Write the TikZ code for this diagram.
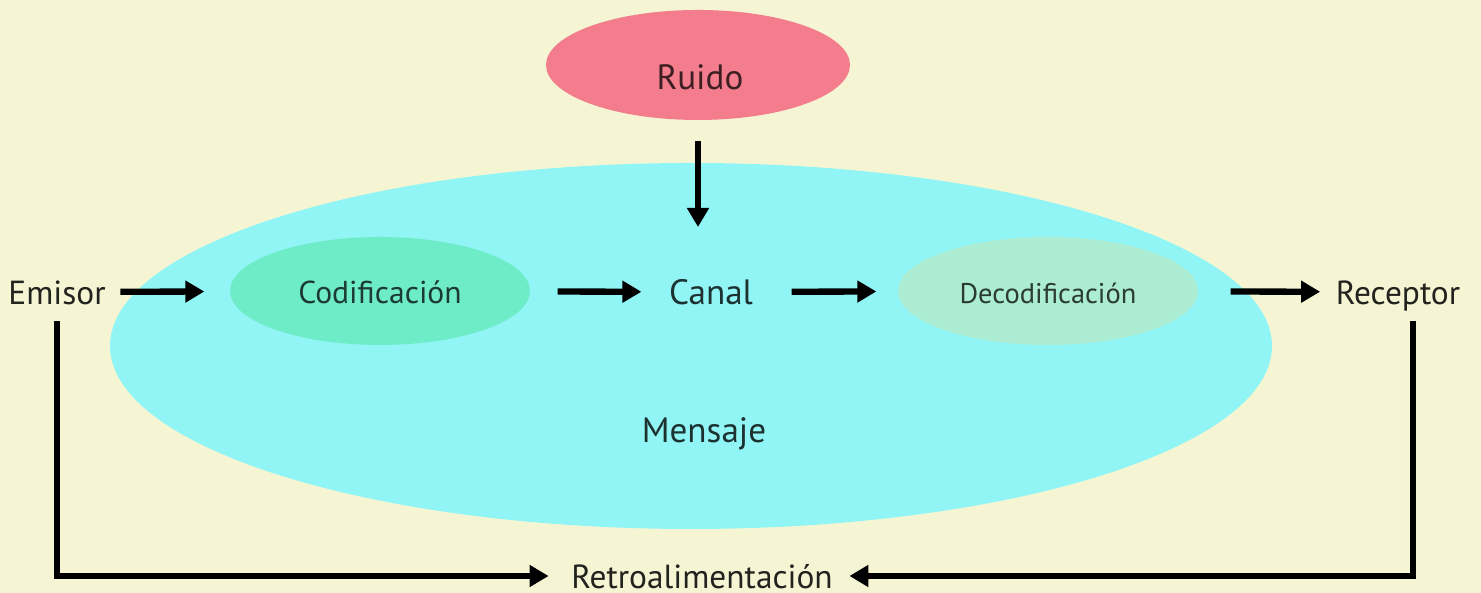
\documentclass[tikz,border=0pt]{standalone}
\usepackage{fontspec}
\setmainfont{PT Sans}
\usetikzlibrary{shapes.geometric,arrows.meta}
\definecolor{fondo}{RGB}{245,245,212}
\definecolor{cian}{RGB}{146,245,245}
\definecolor{rosa}{RGB}{243,125,140}
\definecolor{verdecod}{RGB}{110,236,200}
\definecolor{verdedec}{RGB}{172,236,210}
\definecolor{tinta}{RGB}{34,34,30}
\begin{document}
\begin{tikzpicture}
\tikzset{zona/.style={ellipse, inner sep=0pt, text height=0.7em, text depth=0pt}}
\tikzset{texto/.style={inner sep=0pt, text=tinta, text height=0.7em, text depth=0pt, font=\fontsize{9.5}{11}\selectfont}}
\tikzset{flecha/.style={line width=1.8pt, -{Triangle[length=0.19cm,width=0.21cm]}}}
\fill[fondo] (0,0) rectangle (14.81,5.93);
\useasboundingbox (0,0) rectangle (14.81,5.93);
% elipses
\node[zona, fill=cian, minimum width=11.62cm, minimum height=3.66cm] (area) at (6.91,2.47) {};
\node[zona, fill=rosa, minimum width=3.04cm, minimum height=1.1cm] (ruido) at (6.98,5.28) {};
\node[zona, fill=verdecod, minimum width=3.0cm, minimum height=1.08cm, text=verdecod!25!black, font=\fontsize{9}{11}\selectfont] (codif) at (3.80,3.02) {Codificación};
\node[zona, fill=verdedec, minimum width=3.0cm, minimum height=1.08cm, text=verdedec!25!black, font=\fontsize{8.1}{10}\selectfont] (decodif) at (10.48,3.02) {Decodificación};
% textos
\node[texto, text=rosa!25!black, font=\fontsize{10}{12}\selectfont] (ruidotxt) at (7.00,5.16) {Ruido};
\node[texto, text=cian!20!black, font=\fontsize{10}{12}\selectfont] (canal) at (7.11,3.01) {Canal};
\node[texto, text=cian!20!black, font=\fontsize{10}{12}\selectfont] (mensaje) at (7.04,1.63) {Mensaje};
\node[texto] (emisor) at (0.57,3.01) {Emisor};
\node[texto] (receptor) at (13.98,3.01) {Receptor};
\node[texto] (retro) at (7.02,0.17) {Retroalimentación};
% flechas
\draw[flecha, shorten <=0.14cm, shorten >=0.25cm] (emisor) -- (codif);
\draw[flecha, shorten <=0.27cm, shorten >=0.27cm] (codif) -- (canal);
\draw[flecha, shorten <=0.38cm, shorten >=0.21cm] (canal) -- (decodif);
\draw[flecha, shorten <=0.32cm, shorten >=0.15cm] (decodif) -- (receptor);
\draw[flecha, shorten <=0.2cm, shorten >=0.52cm] (ruido.south) -- (ruido.south |- canal.north);
\draw[flecha, shorten <=0.16cm, shorten >=0.22cm] (emisor.south) -- (emisor.south |- retro) -- (retro.west);
\draw[flecha, shorten <=0.16cm, shorten >=0.16cm] ([xshift=0.15cm]receptor.south) -- ([xshift=0.15cm]receptor.south |- retro) -- (retro.east);
\end{tikzpicture}
\end{document}
